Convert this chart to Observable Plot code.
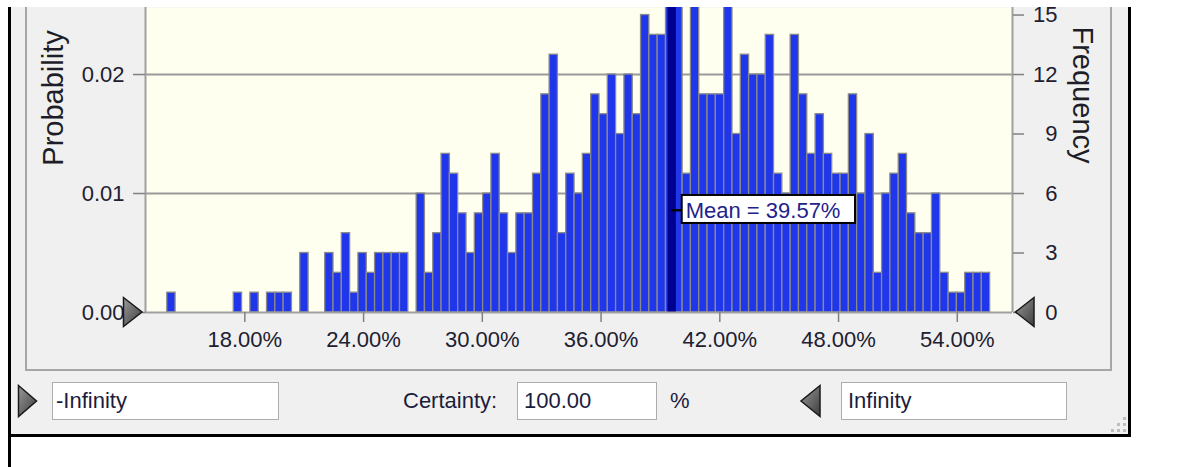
<!DOCTYPE html>
<html><head><meta charset="utf-8">
<script src="https://cdn.jsdelivr.net/npm/d3@7"></script>
<script src="https://cdn.jsdelivr.net/npm/@observablehq/plot@0.6"></script>
<style>
html,body{margin:0;padding:0;background:#fff;}
#wrap{position:relative;width:1196px;height:467px;overflow:hidden;font-family:"Liberation Sans",Arial,sans-serif;}
.abs{position:absolute;}
.box{position:absolute;background:#fff;border:1.5px solid #adadad;box-sizing:border-box;font-size:22px;color:#1c1c3c;line-height:35px;padding-left:3px;white-space:nowrap;}
.lbl{position:absolute;font-size:22px;color:#1c1c3c;line-height:35px;white-space:nowrap;}
.dot{position:absolute;width:3px;height:3px;background:#bdbdbd;}
</style></head>
<body>
<div id="wrap">
  <div class="abs" style="left:11px;top:7px;width:1117px;height:427px;background:#f0f0f0"></div>
  <div class="abs" style="left:25px;top:7px;width:1087px;height:364px;border:2px solid #a6a6a6;border-top:none;box-sizing:border-box"></div>
  <div class="abs" style="left:8px;top:7px;width:3px;height:460px;background:#000"></div>
  <div class="abs" style="left:1128px;top:7px;width:3px;height:430px;background:#000"></div>
  <div class="abs" style="left:8px;top:434px;width:1123px;height:3px;background:#000"></div>
  <div id="chart" class="abs" style="left:0;top:0"></div>
  <div class="abs" style="left:52.5px;top:98px;transform:translate(-50%,-50%) rotate(-90deg);font-size:29px;white-space:nowrap;color:#1e1e28">Probability</div>
  <div class="abs" style="left:1082px;top:95px;transform:translate(-50%,-50%) rotate(90deg);font-size:29px;white-space:nowrap;color:#1e1e28">Frequency</div>
  <div class="box" style="left:52px;top:382px;width:227px;height:38px">-Infinity</div>
  <div class="lbl" style="left:403px;top:383px">Certainty:</div>
  <div class="box" style="left:517px;top:382px;width:140px;height:38px;padding-left:6px">100.00</div>
  <div class="lbl" style="left:670px;top:383px">%</div>
  <div class="box" style="left:841px;top:382px;width:226px;height:38px;padding-left:6px">Infinity</div>
  <div class="dot" style="left:1123px;top:417px"></div>
  <div class="dot" style="left:1117px;top:423px"></div>
  <div class="dot" style="left:1123px;top:423px"></div>
  <div class="dot" style="left:1111px;top:429px"></div>
  <div class="dot" style="left:1117px;top:429px"></div>
  <div class="dot" style="left:1123px;top:429px"></div>
  <svg class="abs" style="left:0;top:0" width="1196" height="467">
    <defs>
      <linearGradient id="tg" x1="0" y1="0" x2="1" y2="1">
        <stop offset="0" stop-color="#9a9a9a"/>
        <stop offset="1" stop-color="#3c3c3c"/>
      </linearGradient>
    </defs>
    <polygon points="123.5,297.5 142,312 123.5,326.5" fill="url(#tg)" stroke="#1a1a1a" stroke-width="1.5"/>
    <polygon points="1034,297.5 1015.5,312 1034,326.5" fill="url(#tg)" stroke="#1a1a1a" stroke-width="1.5"/>
    <polygon points="18.5,385.5 36.5,401 18.5,416.5" fill="url(#tg)" stroke="#1a1a1a" stroke-width="1.5"/>
    <polygon points="820,385.5 801,401 820,416.5" fill="url(#tg)" stroke="#1a1a1a" stroke-width="1.5"/>
  </svg>
</div>
<script>
// ---- data ----
const binStart = 14.08;   // lower edge of first bin (%)
const binWidth = 0.42;    // bin width (%)
const frequencies = [
  1,0,0,0,0,0,0,0,1,0,
  1,0,1,1,1,0,3,0,0,3,
  2,4,1,3,2,3,3,3,3,0,
  6,2,4,8,7,5,3,5,6,8,
  5,3,5,5,7,11,13,4,7,6,
  8,11,10,12,9,12,10,15,14,14,
  18,19,7,18,11,11,11,18,9,13,
  12,12,14,7,6,14,11,8,10,8,
  7,7,11,6,9,2,6,7,8,5,
  4,4,6,2,1,1,2,2,2
];
const trials = 600;
const meanValue = 39.57;
const meanLabel = "Mean = 39.57%";
const xTicks = [18, 24, 30, 36, 42, 48, 54];
const xTickLabels = ["18.00%", "24.00%", "30.00%", "36.00%", "42.00%", "48.00%", "54.00%"];
const probTicks = [0.00, 0.01, 0.02];
const probTickLabels = ["0.00", "0.01", "0.02"];
const freqTicks = [0, 3, 6, 9, 12, 15];
const xDomain = [12.98, 56.79];
const yDomain = [0, 15.38];
const labelY = 5.13;

// ---- build ----
const bins = frequencies.map((f, i) => ({x1: binStart + i * binWidth, x2: binStart + (i + 1) * binWidth, f}));
const probFreq = probTicks.map(p => Math.round(p * trials));
const ink = "#202030";

const chart = Plot.plot({
  width: 1196, height: 467,
  marginLeft: 145, marginRight: 184, marginTop: 7, marginBottom: 155,
  x: {domain: xDomain, label: null},
  y: {domain: yDomain, label: null},
  style: {background: "transparent", fontFamily: "'Liberation Sans', Arial, sans-serif", fontSize: "22px", color: ink, overflow: "visible"},
  marks: [
    Plot.frame({fill: "#fffff0", stroke: "none"}),
    Plot.ruleY(probFreq.filter(d => d > 0), {stroke: "#9a9a9a", strokeWidth: 2}),
    Plot.rectY(bins.filter(d => d.f > 0), {x1: "x1", x2: "x2", y: "f", fill: "#1f36ea", stroke: "#8a8a8a", strokeWidth: 1.3, clip: true}),
    Plot.ruleX([meanValue], {stroke: "#000090", strokeWidth: 8.3}),
    Plot.ruleX([xDomain[0], xDomain[1]], {stroke: "#a0a0a0", strokeWidth: 2}),
    Plot.ruleY([0], {stroke: "#a0a0a0", strokeWidth: 2}),
    Plot.rect([meanValue], {x1: d => d, x2: d => d, y1: () => labelY, y2: () => labelY,
      insetLeft: 0, insetRight: -11, insetTop: -1.2, insetBottom: -1.2, fill: "#000"}),
    Plot.rect([meanValue], {x1: d => d, x2: d => d, y1: () => labelY, y2: () => labelY,
      insetLeft: 10.5, insetRight: -183.8, insetTop: -15.3, insetBottom: -12.7, fill: "#fff", stroke: "#000", strokeWidth: 2}),
    Plot.text([meanLabel], {x: () => meanValue, y: () => labelY, text: d => d, dx: 14, textAnchor: "start", fill: "#22228a", fontSize: 22}),
    Plot.axisX(xTicks, {tickFormat: d => xTickLabels[xTicks.indexOf(d)], tickSize: 10, tickPadding: 9, stroke: "#808080", strokeWidth: 1.5, fill: ink, fontSize: 22, label: null}),
    Plot.axisY(probFreq, {anchor: "left", tickFormat: d => probTickLabels[probFreq.indexOf(d)], tickSize: 12, tickPadding: 9, stroke: "#808080", strokeWidth: 1.5, fill: ink, fontSize: 22, label: null}),
    Plot.axisY(freqTicks, {anchor: "right", tickFormat: d => String(d), tickSize: 11, tickPadding: 34, textAnchor: "end", stroke: "#808080", strokeWidth: 1.5, fill: ink, fontSize: 22, label: null})
  ]
});
document.getElementById("chart").appendChild(chart);
</script>
</body></html>
